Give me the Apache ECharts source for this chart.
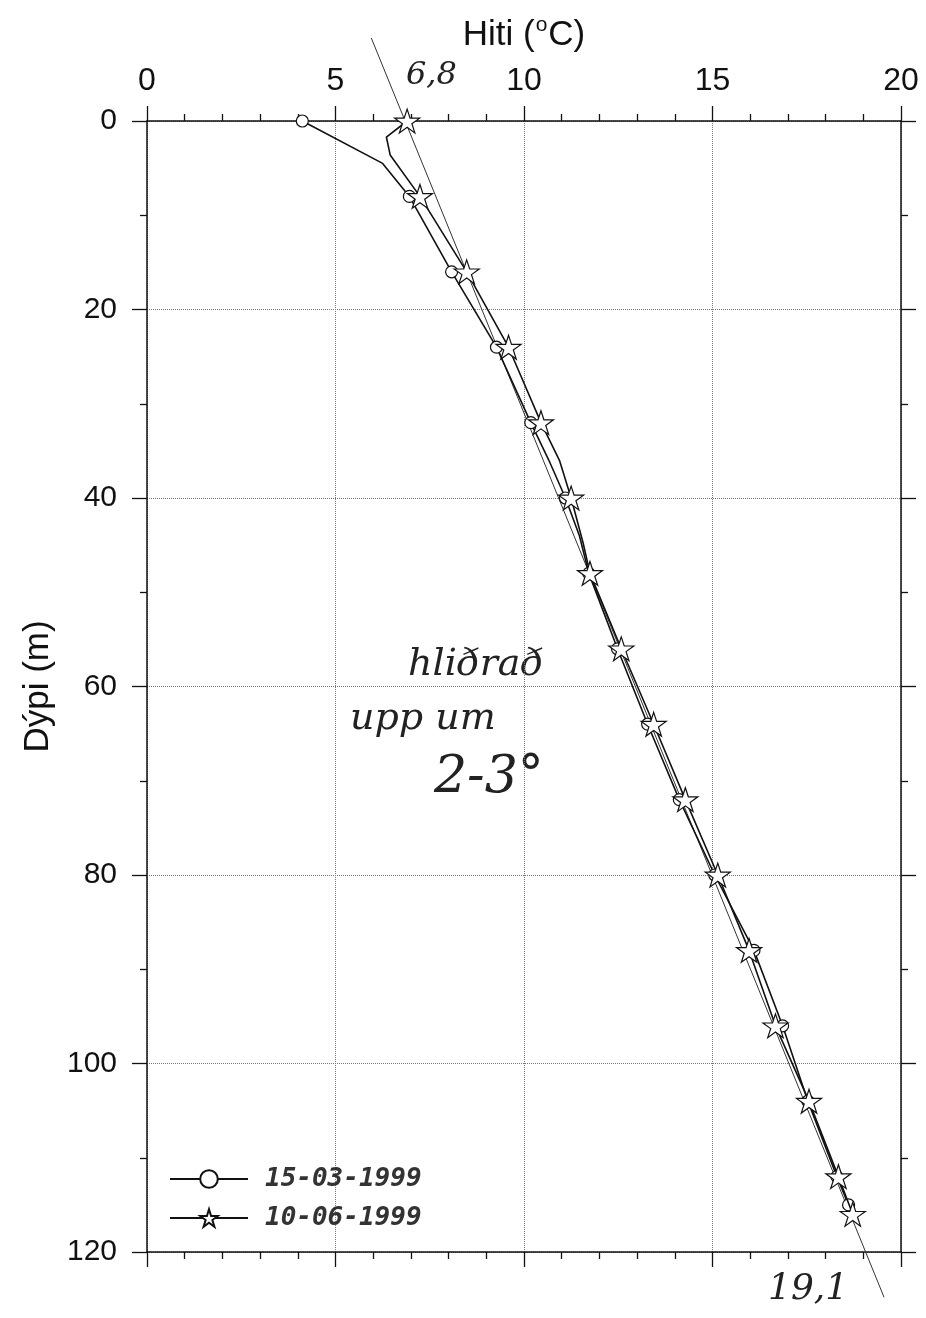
<!DOCTYPE html>
<html><head><meta charset="utf-8">
<script src="https://cdn.jsdelivr.net/npm/echarts@6/dist/echarts.min.js"></script>
<style>html,body{margin:0;padding:0;background:#fff}#c{width:926px;height:1318px}</style>
</head><body><div id="c"></div>
<script>
// ---- data ----
const seriesNames = ['15-03-1999', '10-06-1999'];
const marchDepth  = [0, 4.5, 8, 16, 24, 32, 36, 40, 44, 48, 56, 64, 72, 80, 88, 96, 104, 112, 115];
const marchTemp   = [4.12, 6.25, 6.96, 8.08, 9.27, 10.18, 10.66, 11.1, 11.47, 11.72, 12.48, 13.28, 14.12, 15.06, 16.1, 16.86, 17.53, 18.3, 18.61];
const marchMarked = [1, 0, 1, 1, 1, 1, 0, 1, 0, 1, 1, 1, 1, 1, 1, 1, 1, 1, 1];
const juneDepth   = [0, 1.7, 3.6, 8, 16, 24, 32, 36, 40, 44.8, 48, 56, 64, 72, 80, 88, 96, 104, 112, 116];
const juneTemp    = [6.9, 6.35, 6.45, 7.24, 8.48, 9.59, 10.45, 10.94, 11.25, 11.57, 11.75, 12.58, 13.44, 14.28, 15.14, 15.97, 16.67, 17.56, 18.34, 18.72];
const juneMarked  = [1, 0, 0, 1, 1, 1, 1, 0, 1, 0, 1, 1, 1, 1, 1, 1, 1, 1, 1, 1];
const guideDepth  = [-8.8, 124.8];   // hand-drawn straight line (ends outside the frame)
const guideTemp   = [5.95, 19.55];
const tempTicks   = [0, 5, 10, 15, 20];
const depthTicks  = [0, 20, 40, 60, 80, 100, 120];
const notes = ['6,8', '19,1', 'hliðrað', 'upp um', '2-3°'];

const STAR = 'path://M50 0 L61.23 34.55 L97.55 34.55 L68.17 55.9 L79.39 90.45 L50 69.1 L20.61 90.45 L31.83 55.9 L2.45 34.55 L38.77 34.55 Z';

function build(t, d, m) {
  return t.map((v, i) => m[i] ? [v, d[i]] : { value: [v, d[i]], symbol: 'none' });
}

const font = "'Liberation Sans', Arial, sans-serif";
const hand = "'DejaVu Serif', serif";
const tMin = tempTicks[0], tMax = tempTicks[tempTicks.length - 1], tStep = tempTicks[1] - tempTicks[0];
const dMin = depthTicks[0], dMax = depthTicks[depthTicks.length - 1], dStep = depthTicks[1] - depthTicks[0];

const chart = echarts.init(document.getElementById('c'), null, { renderer: 'canvas' });
const axisCommon = {
  type: 'value',
  axisLine: { show: true, onZero: false, lineStyle: { color: '#111', width: 1.5 } },
  axisTick: { show: true, inside: false, length: 15, lineStyle: { color: '#111', width: 1.3 } },
};
chart.setOption({
  backgroundColor: '#fff',
  animation: false,
  grid: { left: 147, right: 25, top: 121, bottom: 66 },
  xAxis: [
    Object.assign({}, axisCommon, {
      position: 'top', min: tMin, max: tMax, interval: tStep,
      minorTick: { show: true, splitNumber: 5, length: 7, lineStyle: { color: '#111', width: 1.3 } },
      axisLabel: { fontFamily: font, fontSize: 32, color: '#111', margin: 24 },
      splitLine: { show: true, lineStyle: { type: 'dotted', color: '#777', width: 1 } },
      name: '{a|Hiti (}{s|o}{a|C)}', nameLocation: 'middle', nameGap: 66,
      nameTextStyle: { rich: { a: { fontFamily: font, fontSize: 35, color: '#111', lineHeight: 40 }, s: { fontFamily: font, fontSize: 21, color: '#111', verticalAlign: 'top', lineHeight: 40, padding: [0, 1, 14, 1] } } }
    }),
    Object.assign({}, axisCommon, {
      position: 'bottom', min: tMin, max: tMax, interval: tStep,
      minorTick: { show: true, splitNumber: 5, length: 7, lineStyle: { color: '#111', width: 1.3 } },
      axisLabel: { show: false }, splitLine: { show: false }
    })
  ],
  yAxis: [
    Object.assign({}, axisCommon, {
      position: 'left', inverse: true, min: dMin, max: dMax, interval: dStep,
      minorTick: { show: true, splitNumber: 2, length: 7, lineStyle: { color: '#111', width: 1.3 } },
      axisLabel: { fontFamily: font, fontSize: 30, color: '#111', margin: 30 },
      splitLine: { show: true, lineStyle: { type: 'dotted', color: '#777', width: 1 } },
      name: 'Dýpi (m)', nameLocation: 'middle', nameGap: 86, nameRotate: 90,
      nameTextStyle: { fontFamily: font, fontSize: 35, color: '#111' }
    }),
    Object.assign({}, axisCommon, {
      position: 'right', inverse: true, min: dMin, max: dMax, interval: dStep,
      minorTick: { show: true, splitNumber: 2, length: 7, lineStyle: { color: '#111', width: 1.3 } },
      axisLabel: { show: false }, splitLine: { show: false }
    })
  ],
  legend: {
    orient: 'vertical', left: 164, top: 1161, itemGap: 13,
    itemWidth: 78, itemHeight: 22,
    data: seriesNames,
    textStyle: { fontFamily: "'DejaVu Sans Mono', monospace", fontStyle: 'italic', fontWeight: 'bold', fontSize: 26, color: '#333', padding: [0, 0, 0, 12], lineHeight: 25 }
  },
  series: [
    {
      name: 'guide', type: 'line', data: guideTemp.map((t, i) => [t, guideDepth[i]]),
      showSymbol: false, clip: false, silent: true, z: 1,
      lineStyle: { color: '#333', width: 1 }
    },
    {
      name: seriesNames[0], type: 'line', data: build(marchTemp, marchDepth, marchMarked),
      symbol: 'circle', symbolSize: 12, showAllSymbol: true, z: 3,
      lineStyle: { color: '#111', width: 1.6 },
      itemStyle: { color: '#fff', borderColor: '#111', borderWidth: 1.2 }
    },
    {
      name: seriesNames[1], type: 'line', data: build(juneTemp, juneDepth, juneMarked),
      symbol: STAR, symbolSize: 25, symbolKeepAspect: true, showAllSymbol: true, z: 4,
      lineStyle: { color: '#111', width: 1.6 },
      itemStyle: { color: '#fff', borderColor: '#111', borderWidth: 1.2 }
    }
  ],
  graphic: [
    { type: 'text', left: 406, top: 60, style: { text: notes[0], font: 'italic 32px ' + hand, fill: '#222' } },
    { type: 'text', left: 768, top: 1272, style: { text: notes[1], font: 'italic 36px ' + hand, fill: '#222' } },
    { type: 'text', left: 408, top: 646, style: { text: notes[2], font: 'italic 38px ' + hand, fill: '#222' } },
    { type: 'text', left: 350, top: 700, style: { text: notes[3], font: 'italic 38px ' + hand, fill: '#222' } },
    { type: 'text', left: 434, top: 752, style: { text: notes[4], font: 'italic 52px ' + hand, fill: '#222' } }
  ]
});
</script></body></html>
